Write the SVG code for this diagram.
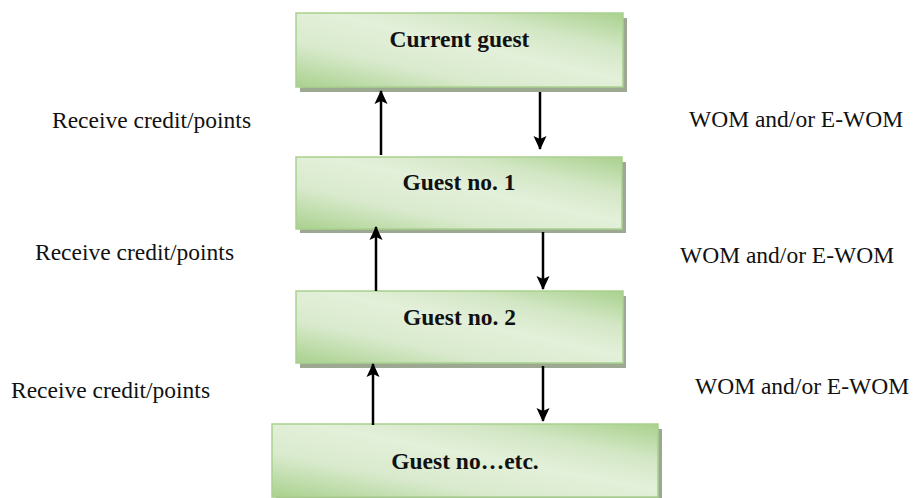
<svg xmlns="http://www.w3.org/2000/svg" width="914" height="498" viewBox="0 0 914 498">
<style>
.box{fill:url(#g);stroke:#a9d18e;stroke-width:1.5}
.sh{fill:#9ca891}
.bt{font-family:"Liberation Serif","Times New Roman",serif;font-weight:bold;font-size:23.5px;fill:#111;text-anchor:middle}
.lb{font-family:"Liberation Serif","Times New Roman",serif;font-size:23.5px;fill:#111}
.ar{stroke:#000;stroke-width:2.5;fill:none}
</style>
<defs>
<linearGradient id="g" x1="0" y1="1" x2="1" y2="0">
<stop offset="0" stop-color="#a9d18e"/>
<stop offset="0.3" stop-color="#d9eacd"/>
<stop offset="0.55" stop-color="#e3f0da"/>
<stop offset="0.75" stop-color="#d3e7c5"/>
<stop offset="1" stop-color="#a9d18e"/>
</linearGradient>
<marker id="ah" markerWidth="14" markerHeight="14" viewBox="0 0 14 14" refX="13" refY="7" orient="auto" markerUnits="userSpaceOnUse">
<path d="M0,0.5 L14,7 L0,13.5 L3,7 Z" fill="#000"/>
</marker>
</defs>
<g id="node-current">
<rect class="sh" x="300" y="18" width="327" height="74"/>
<rect class="box" x="296" y="13" width="327" height="74"/>
<text class="bt" x="459.5" y="47">Current guest</text>
</g>
<g id="node-guest1">
<rect class="sh" x="300" y="162" width="326" height="71"/>
<rect class="box" x="296" y="157" width="326" height="72"/>
<text class="bt" x="459" y="190">Guest no. 1</text>
</g>
<g id="node-guest2">
<rect class="sh" x="300" y="296" width="326" height="72"/>
<rect class="box" x="296" y="291" width="327" height="72"/>
<text class="bt" x="459.5" y="325">Guest no. 2</text>
</g>
<g id="node-guest-etc">
<rect class="sh" x="276" y="429" width="386" height="73"/>
<rect class="box" x="272" y="424" width="386" height="73"/>
<text class="bt" x="465" y="469">Guest no…etc.</text>
</g>
<g id="connectors">
<line class="ar" x1="381" y1="155" x2="381" y2="91" marker-end="url(#ah)"/>
<line class="ar" x1="540" y1="92" x2="540" y2="149" marker-end="url(#ah)"/>
<line class="ar" x1="376" y1="291" x2="376" y2="227" marker-end="url(#ah)"/>
<line class="ar" x1="543" y1="232" x2="543" y2="289" marker-end="url(#ah)"/>
<line class="ar" x1="373" y1="425" x2="373" y2="364" marker-end="url(#ah)"/>
<line class="ar" x1="543" y1="366" x2="543" y2="421" marker-end="url(#ah)"/>
</g>
<g id="labels">
<text class="lb" x="52" y="128">Receive credit/points</text>
<text class="lb" x="35" y="260">Receive credit/points</text>
<text class="lb" x="11" y="398">Receive credit/points</text>
<text class="lb" x="689" y="127">WOM and/or E-WOM</text>
<text class="lb" x="680" y="263">WOM and/or E-WOM</text>
<text class="lb" x="695" y="394">WOM and/or E-WOM</text>
</g>
</svg>
